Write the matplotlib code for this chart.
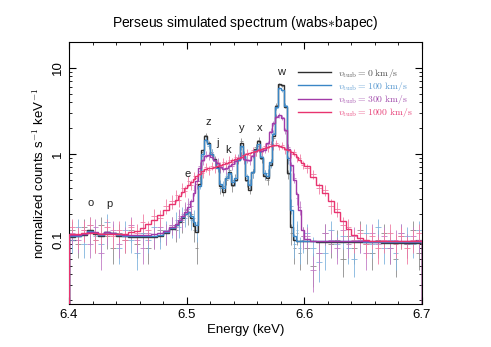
import numpy as np
import matplotlib
matplotlib.use("Agg")
import matplotlib.pyplot as plt

plt.rcParams["font.family"] = ["Liberation Sans", "DejaVu Sans"]
plt.rcParams["mathtext.fontset"] = "cm"

# energy bins (keV): 5 eV on the continuum, 2.5 eV across the Fe XXV complex
edges = np.concatenate([np.linspace(6.40, 6.49, 19)[:-1],
                        np.linspace(6.49, 6.60, 45)[:-1],
                        np.linspace(6.60, 6.70, 21)])

# folded models, normalized counts s^-1 keV^-1
model_v0 = [
    0.108, 0.110, 0.115, 0.130, 0.118, 0.112, 0.125, 0.120, 0.112, 0.110, 0.108, 0.108, 0.108, 0.108, 0.108, 0.112, 0.120, 0.135,
    0.150, 0.160, 0.180, 0.200, 0.210, 0.180, 0.145, 0.125, 0.450, 1.10, 1.60, 1.35, 1.00, 0.88, 0.70, 0.42, 0.36, 0.52, 0.62, 0.44,
    0.50, 0.85, 1.35, 0.95, 0.50, 0.38, 0.62, 1.15, 1.40, 0.90, 0.55, 0.52, 0.75, 1.60, 3.60, 6.50, 6.30, 3.50, 0.60, 0.140, 0.100,
    0.097, 0.097, 0.097,
    0.096, 0.096, 0.095, 0.095, 0.095, 0.095, 0.095, 0.094, 0.094, 0.094, 0.094, 0.094, 0.094, 0.093, 0.093, 0.093, 0.093, 0.093,
    0.093, 0.093,
]
model_v100 = [
    0.110, 0.112, 0.117, 0.128, 0.120, 0.113, 0.124, 0.120, 0.113, 0.111, 0.110, 0.110, 0.110, 0.110, 0.111, 0.115, 0.122, 0.137,
    0.150, 0.165, 0.185, 0.200, 0.210, 0.190, 0.160, 0.150, 0.420, 1.00, 1.45, 1.30, 1.00, 0.85, 0.68, 0.45, 0.40, 0.52, 0.60, 0.47,
    0.52, 0.85, 1.25, 0.95, 0.55, 0.43, 0.62, 1.10, 1.30, 0.92, 0.60, 0.56, 0.80, 1.70, 3.50, 5.80, 5.60, 3.60, 0.90, 0.220, 0.110,
    0.098, 0.097, 0.097,
    0.097, 0.097, 0.097, 0.096, 0.096, 0.096, 0.096, 0.096, 0.096, 0.096, 0.095, 0.095, 0.095, 0.095, 0.095, 0.095, 0.095, 0.095,
    0.095, 0.095,
]
model_v300 = [
    0.115, 0.115, 0.118, 0.125, 0.122, 0.117, 0.122, 0.120, 0.116, 0.114, 0.113, 0.113, 0.113, 0.114, 0.116, 0.120, 0.128, 0.140,
    0.155, 0.170, 0.190, 0.210, 0.240, 0.280, 0.350, 0.480, 0.680, 0.850, 0.950, 0.970, 0.930, 0.860, 0.780, 0.700, 0.660, 0.680,
    0.720, 0.760, 0.820, 0.900, 0.930, 0.880, 0.840, 0.860, 0.950, 1.08, 1.12, 1.08, 1.10, 1.35, 1.80, 2.30, 2.70, 2.85, 2.60, 1.90,
    1.15, 0.750, 0.500, 0.340, 0.220, 0.130,
    0.102, 0.098, 0.097, 0.097, 0.097, 0.097, 0.097, 0.097, 0.097, 0.097, 0.096, 0.096, 0.096, 0.096, 0.096, 0.096, 0.096, 0.096,
    0.096, 0.096,
]
model_v1000 = [
    0.118, 0.118, 0.119, 0.120, 0.119, 0.118, 0.118, 0.117, 0.117, 0.118, 0.122, 0.128, 0.138, 0.152, 0.172, 0.195, 0.225, 0.265,
    0.290, 0.320, 0.360, 0.400, 0.440, 0.470, 0.510, 0.550, 0.590, 0.630, 0.660, 0.680, 0.690, 0.710, 0.730, 0.750, 0.770, 0.790,
    0.810, 0.840, 0.870, 0.900, 0.930, 0.960, 0.990, 1.02, 1.05, 1.08, 1.11, 1.15, 1.18, 1.21, 1.24, 1.26, 1.27, 1.25, 1.20, 1.15,
    1.10, 1.05, 1.00, 0.930, 0.860, 0.790,
    0.720, 0.540, 0.440, 0.350, 0.280, 0.210, 0.165, 0.135, 0.115, 0.105, 0.100, 0.098, 0.097, 0.097, 0.097, 0.097, 0.097, 0.097,
    0.097, 0.097,
]

# simulated spectra (same bins)
data_v0 = [
    0.13, 0.09, 0.14, 0.12, 0.10, 0.15, 0.11, 0.08, 0.12, 0.10, 0.13, 0.09, 0.12, 0.08, 0.11, 0.13, 0.12, 0.15,
    0.13, 0.18, 0.16, 0.22, 0.19, 0.20, 0.13, 0.08, 0.48, 1.05, 1.65, 1.30, 1.05, 0.85, 0.72, 0.40, 0.38, 0.50, 0.65, 0.42,
    0.52, 0.88, 1.40, 0.92, 0.48, 0.40, 0.60, 1.20, 1.45, 0.87, 0.57, 0.50, 0.78, 1.55, 3.70, 6.40, 6.20, 3.60, 0.58, 0.12,
    0.08, 0.12, 0.07, 0.11,
    0.08, 0.05, 0.07, 0.12, 0.09, 0.10, 0.06, 0.11, 0.08, 0.13, 0.09, 0.07, 0.10, 0.12, 0.08, 0.06, 0.11, 0.09, 0.13, 0.07,
]
data_v100 = [
    0.10, 0.14, 0.09, 0.15, 0.11, 0.09, 0.16, 0.12, 0.08, 0.13, 0.10, 0.07, 0.12, 0.10, 0.14, 0.11, 0.13, 0.14,
    0.17, 0.14, 0.20, 0.18, 0.23, 0.17, 0.18, 0.13, 0.45, 0.95, 1.50, 1.25, 1.05, 0.82, 0.70, 0.43, 0.42, 0.55, 0.58, 0.50,
    0.49, 0.90, 1.20, 0.98, 0.52, 0.45, 0.60, 1.15, 1.25, 0.95, 0.58, 0.60, 0.76, 1.75, 3.40, 5.90, 5.50, 3.70, 0.85, 0.25,
    0.09, 0.13, 0.08, 0.10,
    0.12, 0.08, 0.055, 0.07, 0.13, 0.09, 0.11, 0.08, 0.06, 0.10, 0.12, 0.09, 0.14, 0.08, 0.10, 0.07, 0.12, 0.11, 0.09, 0.13,
]
data_v300 = [
    0.12, 0.10, 0.13, 0.09, 0.14, 0.07, 0.12, 0.13, 0.09, 0.11, 0.15, 0.10, 0.08, 0.12, 0.11, 0.14, 0.12, 0.15,
    0.14, 0.19, 0.17, 0.23, 0.26, 0.25, 0.38, 0.45, 0.72, 0.82, 0.98, 0.95, 0.96, 0.83, 0.80, 0.68, 0.69, 0.66, 0.75, 0.73,
    0.85, 0.87, 0.96, 0.86, 0.87, 0.83, 0.98, 1.05, 1.15, 1.05, 1.13, 1.30, 1.85, 2.25, 2.75, 2.80, 2.65, 1.85, 1.20, 0.72,
    0.53, 0.31, 0.24, 0.11,
    0.11, 0.045, 0.07, 0.12, 0.10, 0.08, 0.13, 0.09, 0.11, 0.10, 0.07, 0.12, 0.09, 0.11, 0.08, 0.10, 0.12, 0.09, 0.11, 0.10,
]
data_v1000 = [
    0.14, 0.11, 0.13, 0.15, 0.10, 0.12, 0.14, 0.11, 0.13, 0.10, 0.14, 0.12, 0.16, 0.13, 0.19, 0.18, 0.25, 0.28,
    0.33, 0.29, 0.40, 0.37, 0.48, 0.44, 0.55, 0.52, 0.63, 0.60, 0.70, 0.65, 0.73, 0.68, 0.77, 0.72, 0.80, 0.76, 0.85, 0.80,
    0.91, 0.86, 0.97, 0.92, 1.03, 0.97, 1.10, 1.04, 1.15, 1.10, 1.23, 1.16, 1.30, 1.22, 1.33, 1.20, 1.26, 1.10, 1.15, 1.00,
    1.05, 0.89, 0.90, 0.75,
    0.68, 0.58, 0.40, 0.38, 0.25, 0.23, 0.15, 0.14, 0.10, 0.12, 0.09, 0.11, 0.08, 0.10, 0.12, 0.09, 0.11, 0.08, 0.10, 0.12,
]

vturb = [0, 100, 300, 1000]
models = [model_v0, model_v100, model_v300, model_v1000]
spectra = [data_v0, data_v100, data_v300, data_v1000]
line_col = ["#2e2e2e", "#3a86c6", "#a23aa8", "#e8336f"]
text_col = ["#555555", "#5f9dd2", "#a451ae", "#e8467c"]
err_col = ["#8a8a8a", "#7fb3de", "#c27cc6", "#f07ba2"]

# line identifications
line_names = ["o", "p", "e", "z", "j", "k", "y", "x", "w"]
line_E = [6.418, 6.434, 6.501, 6.518, 6.526, 6.535, 6.547, 6.562, 6.580]
line_lvl = [0.27, 0.26, 0.58, 2.36, 1.34, 1.11, 2.0, 2.0, 9.0]

COUNTS_PER_UNIT = 110.0  # Poisson errors: sigma = sqrt(N)

centres = 0.5 * (edges[1:] + edges[:-1])
half_w = 0.5 * np.diff(edges)

fig = plt.figure(figsize=(4.91, 3.47), dpi=100)
ax = fig.add_axes([0.1405, 0.124, 0.719, 0.755])

for v, m, d, lc, ec in zip(vturb, models, spectra, line_col, err_col):
    d = np.asarray(d)
    yerr = np.sqrt(d * COUNTS_PER_UNIT) / COUNTS_PER_UNIT
    ax.errorbar(centres, d, yerr=yerr, xerr=half_w, fmt="none",
                ecolor=ec, elinewidth=0.7, alpha=0.85, zorder=2)
    ax.stairs(m, edges, color=lc, lw=1.0, zorder=3,
              label=rf"$v_{{\rm turb}} = {v}\ {{\rm km/s}}$")

for name, e, lvl in zip(line_names, line_E, line_lvl):
    ax.text(e, lvl, name, ha="center", va="center", fontsize=8, color="#222222")

ax.set_yscale("log")
ax.set_xlim(6.4, 6.7)
ax.set_ylim(0.018, 20)
ax.set_xticks([6.4, 6.5, 6.6, 6.7])
ax.set_xticks(np.arange(6.40, 6.701, 0.02), minor=True)
ax.set_yticks([0.1, 1, 10], ["0.1", "1", "10"])
for lab in ax.get_yticklabels():
    lab.set_rotation(90)
    lab.set_va("center")
ax.tick_params(which="both", direction="in", top=True, right=True, labelsize=9.5)
ax.tick_params(which="major", length=5, width=0.8)
ax.tick_params(which="minor", length=2.5, width=0.6)
for s in ax.spines.values():
    s.set_linewidth(0.8)

ax.set_xlabel("Energy (keV)", fontsize=9.5, labelpad=2)
ax.set_ylabel(r"normalized counts s$^{-1}$ keV$^{-1}$", fontsize=9.5, labelpad=4)
ax.set_title(r"Perseus simulated spectrum (wabs$\ast$bapec)", fontsize=10, pad=11)

leg = ax.legend(loc="upper right", bbox_to_anchor=(0.99, 0.928), frameon=False,
                fontsize=7, handlelength=3.4, handletextpad=0.7, labelspacing=0.02,
                borderaxespad=0.2)
for t, c in zip(leg.get_texts(), text_col):
    t.set_color(c)
for h in leg.get_lines():
    h.set_linewidth(1.0)

fig.savefig("out.png", dpi=100)
